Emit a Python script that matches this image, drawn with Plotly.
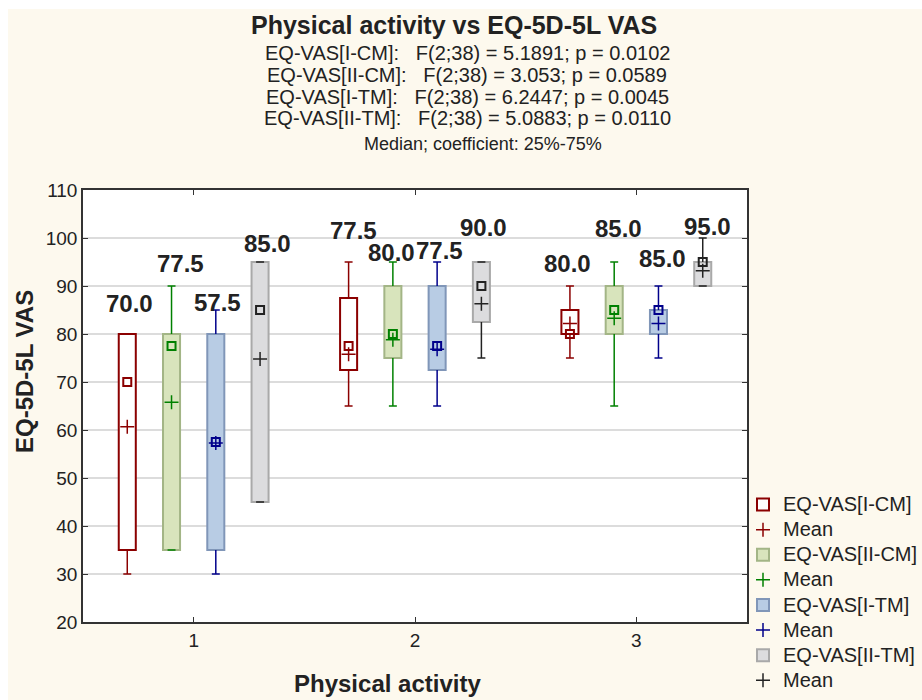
import plotly.graph_objects as go

# ---------------- data ----------------
groups = [1, 2, 3]
series_names = ["EQ-VAS[I-CM]", "EQ-VAS[II-CM]", "EQ-VAS[I-TM]", "EQ-VAS[II-TM]"]

median_icm = [70.0, 77.5, 80.0]
q1_icm = [35.0, 72.5, 80.0]
q3_icm = [80.0, 87.5, 85.0]
min_icm = [30.0, 65.0, 75.0]
max_icm = [80.0, 95.0, 90.0]
mean_icm = [60.7, 75.8, 82.2]

median_iicm = [77.5, 80.0, 85.0]
q1_iicm = [35.0, 75.0, 80.0]
q3_iicm = [80.0, 90.0, 90.0]
min_iicm = [35.0, 65.0, 65.0]
max_iicm = [90.0, 95.0, 95.0]
mean_iicm = [65.8, 78.8, 83.3]

median_itm = [57.5, 77.5, 85.0]
q1_itm = [35.0, 72.5, 80.0]
q3_itm = [80.0, 90.0, 85.0]
min_itm = [30.0, 65.0, 75.0]
max_itm = [85.0, 95.0, 90.0]
mean_itm = [57.3, 76.8, 82.2]

median_iitm = [85.0, 90.0, 95.0]
q1_iitm = [45.0, 82.5, 90.0]
q3_iitm = [95.0, 95.0, 95.0]
min_iitm = [45.0, 75.0, 90.0]
max_iitm = [95.0, 95.0, 100.0]
mean_iitm = [74.8, 86.3, 93.2]

subtitle_lines = [
    "EQ-VAS[I-CM]:\u00a0\u00a0\u00a0F(2;38) = 5.1891; p = 0.0102",
    "EQ-VAS[II-CM]:\u00a0\u00a0\u00a0F(2;38) = 3.053; p = 0.0589",
    "EQ-VAS[I-TM]:\u00a0\u00a0\u00a0F(2;38) = 6.2447; p = 0.0045",
    "EQ-VAS[II-TM]:\u00a0\u00a0\u00a0F(2;38) = 5.0883; p = 0.0110",
]

# ---------------- style ----------------
FONT = "Liberation Sans, Arial, sans-serif"
TXT = "#222222"
BG = "#FDF9EE"
offsets = [-0.3, -0.1, 0.1, 0.3]
box_w = 0.077
cap = 0.018
fills = ["#FFFFFF", "#D8E4BC", "#B8CCE4", "#DCDCDE"]
borders = ["#8B0000", "#A3B586", "#8096B8", "#A9A9A9"]
marks = ["#8B0000", "#008000", "#00008B", "#222222"]
label_dy = [[31, 32, 23], [23, 10, 34], [8, 12, 28], [19, 35, 12]]
label_dx = [[2, 5, -2], [9, -1, 4], [2, 2, 4], [7, 2, 5]]

stats = [
    (median_icm, q1_icm, q3_icm, min_icm, max_icm, mean_icm),
    (median_iicm, q1_iicm, q3_iicm, min_iicm, max_iicm, mean_iicm),
    (median_itm, q1_itm, q3_itm, min_itm, max_itm, mean_itm),
    (median_iitm, q1_iitm, q3_iitm, min_iitm, max_iitm, mean_iitm),
]

L, R, T, B = 83, 175, 190, 78
W, H = 922, 700
pw, ph = W - L - R, H - T - B


def legend_text(s):
    return f'<span style="font-size:20px">{s}</span>'


fig = go.Figure()
annotations = []

for i, (name, st) in enumerate(zip(series_names, stats)):
    med, q1, q3, mn, mx, mean = st
    xs = [g + offsets[i] for g in groups]
    # box
    fig.add_trace(go.Bar(
        x=xs, y=[b - a for a, b in zip(q1, q3)], base=q1, width=box_w,
        marker=dict(color=fills[i], line=dict(color=borders[i], width=2)),
        name=legend_text(name), legendrank=10 * i + 1, showlegend=True, hoverinfo="skip",
    ))
    # whiskers
    wx, wy = [], []
    for x, a, b, lo, hi in zip(xs, q1, q3, mn, mx):
        wx += [x, x, None, x, x, None, x - cap, x + cap, None, x - cap, x + cap, None]
        wy += [b, hi, None, a, lo, None, hi, hi, None, lo, lo, None]
    fig.add_trace(go.Scatter(x=wx, y=wy, mode="lines",
                             line=dict(color=marks[i], width=1.5),
                             showlegend=False, hoverinfo="skip"))
    # median
    fig.add_trace(go.Scatter(x=xs, y=med, mode="markers",
                             marker=dict(symbol="square-open", size=8,
                                         color=marks[i], line=dict(width=2)),
                             showlegend=False))
    # mean
    fig.add_trace(go.Scatter(x=xs, y=mean, mode="markers", name=legend_text("Mean"),
                             legendrank=10 * i + 2,
                             marker=dict(symbol="cross-thin", size=10,
                                         line=dict(color=marks[i], width=1.5))))
    for j, x in enumerate(xs):
        annotations.append(dict(
            x=x, y=mx[j], xref="x", yref="y", text=f"<b>{med[j]:.1f}</b>",
            showarrow=False, yanchor="middle", xanchor="center",
            xshift=label_dx[i][j], yshift=label_dy[i][j],
            font=dict(family=FONT, size=24, color=TXT)))


def px_x(p):
    return (p - L) / pw


def px_y(p):
    return (H - B - p) / ph


annotations.append(dict(x=px_x(454), y=px_y(25), xref="paper", yref="paper",
                        text="<b>Physical activity vs EQ-5D-5L VAS</b>", showarrow=False,
                        xanchor="center", yanchor="middle",
                        font=dict(family=FONT, size=25, color=TXT)))
for k, line in enumerate(subtitle_lines):
    annotations.append(dict(x=px_x(467), y=px_y(53.3 + 21.67 * k), xref="paper", yref="paper",
                            text=line, showarrow=False, xanchor="center", yanchor="middle",
                            font=dict(family=FONT, size=20, color=TXT)))
annotations.append(dict(x=px_x(483), y=px_y(143.5), xref="paper", yref="paper",
                        text="Median; coefficient: 25%-75%", showarrow=False,
                        xanchor="center", yanchor="middle",
                        font=dict(family=FONT, size=18, color=TXT)))
annotations.append(dict(x=px_x(387), y=px_y(683), xref="paper", yref="paper",
                        text="<b>Physical activity</b>", showarrow=False,
                        xanchor="center", yanchor="middle",
                        font=dict(family=FONT, size=24, color=TXT)))
annotations.append(dict(x=px_x(24), y=px_y(372), xref="paper", yref="paper",
                        text="<b>EQ-5D-5L VAS</b>", showarrow=False, textangle=-90,
                        xanchor="center", yanchor="middle",
                        font=dict(family=FONT, size=24, color=TXT)))

shapes = [
    dict(type="rect", xref="paper", yref="paper", x0=px_x(0), x1=px_x(8), y0=px_y(H), y1=px_y(0),
         fillcolor="white", line=dict(width=0), layer="below"),
    dict(type="rect", xref="paper", yref="paper", x0=px_x(0), x1=px_x(W), y0=px_y(9), y1=px_y(0),
         fillcolor="white", line=dict(width=0), layer="below"),
]

axis_common = dict(showline=True, linecolor="#333333", linewidth=1.5, mirror="ticks",
                   ticks="inside", ticklen=5, tickcolor="#333333", tickwidth=1,
                   tickfont=dict(family=FONT, size=19, color=TXT), zeroline=False,
                   automargin=False)

fig.update_layout(
    width=W, height=H,
    margin=dict(l=L, r=R, t=T, b=B, pad=0, autoexpand=False),
    paper_bgcolor=BG, plot_bgcolor="white",
    barmode="overlay",
    xaxis=dict(range=[0.5, 3.5], tickvals=groups, ticktext=[str(g) for g in groups],
               showgrid=False, **axis_common),
    yaxis=dict(range=[20, 110], dtick=10, tick0=20, showgrid=True,
               gridcolor="#DCDCDC", gridwidth=1.5, **axis_common),
    legend=dict(xref="container", yref="container", x=743 / W, y=1 - 487 / H,
                xanchor="left", yanchor="top",
                bgcolor="rgba(0,0,0,0)", font=dict(family=FONT, size=17, color=TXT),
                traceorder="normal", itemwidth=30),
    annotations=annotations, shapes=shapes,
    showlegend=True,
)

fig.write_html("out.html")
